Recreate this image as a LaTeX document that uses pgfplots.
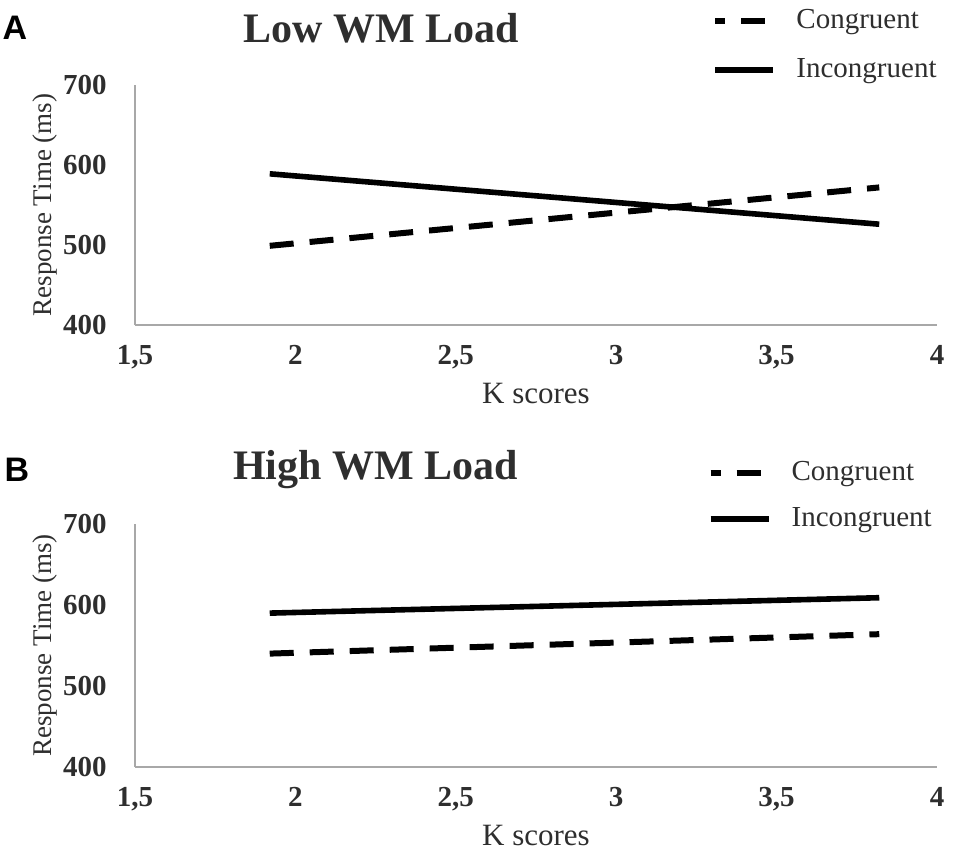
\documentclass[border=0pt]{standalone}
\usepackage{pgfplots}
\pgfplotsset{compat=1.18}
\usepackage{fontspec}
\setmainfont{Liberation Serif}
\newfontfamily\panelfont{Liberation Sans}
\definecolor{txt}{HTML}{2E2E2E}
\definecolor{axgray}{HTML}{A8A8A8}

\pgfplotsset{
  panel/.style={
    scale only axis,
    width=401pt,
    xmin=1.5, xmax=4, ymin=400, ymax=700,
    axis x line=bottom, axis y line=left,
    axis line style={-, draw=axgray, line width=0.8pt},
    major tick length=0pt,
    /pgf/number format/assume math mode=true,
    xtick={1.5,2,2.5,3,3.5,4},
    xticklabels={{1,5},2,{2,5},3,{3,5},4},
    ytick={400,500,600,700},
    yticklabels={400,500,600,700},
    tick label style={font=\bfseries\fontsize{14.5}{18}\selectfont, text=txt},
    xticklabel style={inner sep=0pt, anchor=north, yshift=-10pt},
    yticklabel style={inner sep=0pt, anchor=east, xshift=-14pt},
    every axis x label/.style={at={(axis description cs:0.5,0)}, anchor=center, yshift=-34pt,
      font=\fontsize{15.5}{18}\selectfont, text=txt},
    every axis y label/.style={at={(axis description cs:0,0.5)}, anchor=center, rotate=90, yshift=45pt,
      font=\fontsize{13.5}{16}\selectfont, text=txt},
    xlabel={K scores},
    ylabel={Response Time (ms)},
    every axis title/.style={anchor=center, font=\bfseries\fontsize{21}{24}\selectfont, text=txt},
    legend cell align=left,
    legend style={draw=none, fill=none, inner sep=0pt, outer sep=0pt,
      anchor=north west,
      font=\fontsize{14.5}{17}\selectfont, text=txt,
      nodes={inner sep=0pt, text height=10pt, text depth=3pt},
      /tikz/column sep=10pt},
  },
  cong/.style={black, line width=3pt, dash pattern=on 12pt off 8pt,
    legend image code/.code={\draw[black, line width=3pt, dash pattern=on 12pt off 8pt, dash phase=7pt] (0pt,0pt) -- (29pt,0pt);}},
  incong/.style={black, line width=2.8pt,
    legend image code/.code={\draw[black, line width=2.8pt] (0pt,0pt) -- (29pt,0pt);}},
}

\begin{document}
\begin{tikzpicture}
\useasboundingbox (0,0) rectangle (485pt,-432pt);

% Panel A
\begin{axis}[panel, height=120pt,
  at={(67.5pt,-162.5pt)}, anchor=south west,
  title={Low WM Load},
  title style={at={(axis description cs:0.307,1)}, yshift=28.5pt},
  legend style={at={(axis description cs:0.72,1)}, yshift=38.5pt, /tikz/row sep=11.5pt}]
\addplot[cong] coordinates {(1.92,499) (3.82,572)};
\addlegendentry{Congruent}
\addplot[incong] coordinates {(1.92,589) (3.82,526)};
\addlegendentry{Incongruent}
\end{axis}

% Panel B
\begin{axis}[panel, height=121.5pt,
  at={(67.5pt,-383.5pt)}, anchor=south west,
  title={High WM Load},
  title style={at={(axis description cs:0.30,1)}, yshift=27pt},
  legend style={at={(axis description cs:0.714,1)}, yshift=32pt, /tikz/row sep=10pt}]
\addplot[cong] coordinates {(1.92,540) (3.82,564)};
\addlegendentry{Congruent}
\addplot[incong] coordinates {(1.92,590) (3.82,609)};
\addlegendentry{Incongruent}
\end{axis}

\node[font=\panelfont\bfseries\fontsize{17}{19}\selectfont, anchor=center] at (7.5pt,-14pt) {A};
\node[font=\panelfont\bfseries\fontsize{17}{19}\selectfont, anchor=center] at (8.5pt,-235pt) {B};
\end{tikzpicture}
\end{document}
